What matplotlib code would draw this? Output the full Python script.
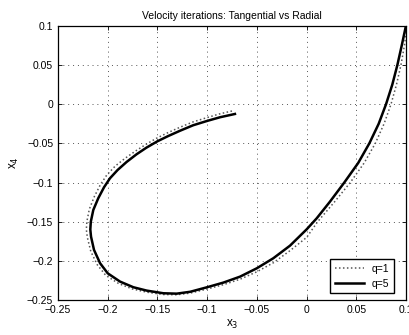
import numpy as np
import matplotlib.pyplot as plt

plt.rcParams['font.family'] = ['Liberation Sans', 'DejaVu Sans']

# q=5 trajectory (x3, x4)
x3_q5 = [-0.072, -0.087, -0.100, -0.114, -0.127, -0.139, -0.150, -0.161, -0.171, -0.181,
         -0.190, -0.1977, -0.2037, -0.2095, -0.2145, -0.217, -0.2175, -0.2168, -0.2138, -0.2077,
         -0.200, -0.1876, -0.1742, -0.1608, -0.144, -0.1306, -0.117, -0.100, -0.0837, -0.0669,
         -0.050, -0.0334, -0.0166, 0.0002, 0.0103, 0.0236, 0.038, 0.052, 0.0632, 0.0726,
         0.080, 0.0863, 0.0914, 0.0958, 0.100]
x4_q5 = [-0.0124, -0.0166, -0.0213, -0.0268, -0.0337, -0.0405, -0.0473, -0.0554, -0.0639, -0.0737,
         -0.0839, -0.0945, -0.106, -0.120, -0.135, -0.150, -0.160, -0.169, -0.186, -0.203,
         -0.2159, -0.2265, -0.2337, -0.238, -0.2414, -0.2419, -0.2395, -0.2337, -0.2278, -0.2202,
         -0.2095, -0.1967, -0.1806, -0.1597, -0.1456, -0.1244, -0.100, -0.075, -0.050, -0.025,
         0.0, 0.025, 0.050, 0.075, 0.100]

# q=1 trajectory
x3_q1 = [-0.075, -0.088, -0.100, -0.114, -0.127, -0.139, -0.150, -0.161, -0.1715, -0.1825,
         -0.1925, -0.2010, -0.2075, -0.2135, -0.2185, -0.2210, -0.2215, -0.2205, -0.2170, -0.2105,
         -0.2020, -0.1890, -0.1750, -0.1608, -0.144, -0.1306, -0.117, -0.100, -0.0837, -0.0669,
         -0.050, -0.0334, -0.0166, 0.0002, 0.0112, 0.0280, 0.0440, 0.0580, 0.0692, 0.0780,
         0.0850, 0.0905, 0.0950, 0.0985, 0.1010]
x4_q1 = [-0.0086, -0.0125, -0.0170, -0.0225, -0.0292, -0.0360, -0.0428, -0.0508, -0.0593, -0.0690,
         -0.0790, -0.0905, -0.103, -0.118, -0.134, -0.150, -0.160, -0.170, -0.188, -0.205,
         -0.2185, -0.2290, -0.2360, -0.2400, -0.2430, -0.2433, -0.2412, -0.2360, -0.2305, -0.2235,
         -0.2140, -0.2025, -0.1870, -0.1700, -0.150, -0.125, -0.100, -0.075, -0.050, -0.025,
         0.0, 0.025, 0.050, 0.075, 0.100]

ticks = [-0.25, -0.2, -0.15, -0.1, -0.05, 0, 0.05, 0.1]
tick_labels = ['\u22120.25', '\u22120.2', '\u22120.15', '\u22120.1', '\u22120.05', '0', '0.05', '0.1']

fig = plt.figure(figsize=(4.1, 3.35), dpi=100)
ax = fig.add_axes([0.1415, 0.1045, 0.8485, 0.818])

ax.plot(x3_q1, x4_q1, linestyle=(0, (1, 1.6)), color='#555555', linewidth=1.1, label='q=1')
ax.plot(x3_q5, x4_q5, linestyle='-', color='black', linewidth=1.8, label='q=5',
        solid_joinstyle='round')

ax.set_xlim(-0.25, 0.1)
ax.set_ylim(-0.25, 0.1)
ax.set_xticks(ticks)
ax.set_yticks(ticks)
ax.set_xticklabels(tick_labels)
ax.set_yticklabels(tick_labels)
ax.tick_params(direction='in', top=True, right=True, labelsize=7.5, length=3, width=0.6)
ax.grid(True, linestyle=(0, (1, 4)), color='#555555', linewidth=0.7)
for s in ax.spines.values():
    s.set_linewidth(0.9)

ax.set_title('Velocity iterations: Tangential vs Radial', fontsize=7.5, pad=5)
ax.set_xlabel('x$_3$', fontsize=8.5, labelpad=2)
ax.set_ylabel('x$_4$', fontsize=8.5, labelpad=4)

leg = ax.legend(loc='lower right', bbox_to_anchor=(0.9655, 0.0255), borderaxespad=0,
                fontsize=7.5, fancybox=False, framealpha=1, edgecolor='black',
                handlelength=2.8)
leg.get_frame().set_linewidth(1.0)

fig.savefig('out.png', dpi=100)
